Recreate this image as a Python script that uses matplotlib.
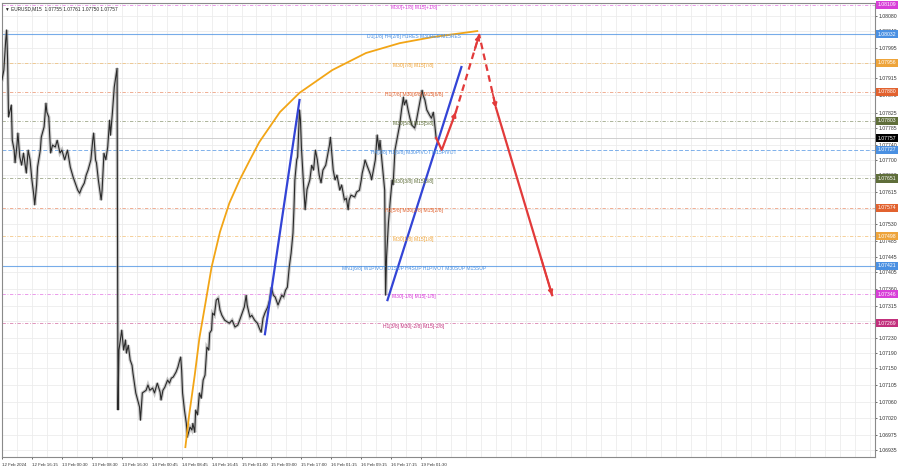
import numpy as np
import matplotlib
matplotlib.use("Agg")
import matplotlib.pyplot as plt
from matplotlib import transforms

plt.rcParams['font.family'] = ['Liberation Sans Narrow', 'Liberation Sans', 'DejaVu Sans']

# ---- data (EURUSD M15) ----
title = "\u25BC EURUSD,M15  1.07755 1.07761 1.07750 1.07757"

bars = [0, 2, 4, 5, 6, 7, 10, 11, 13, 14, 16, 17, 19, 21, 23, 26, 28, 30, 32, 34,
        35, 37, 38, 41, 42, 45, 47, 48, 50, 52, 54, 57, 59, 62, 64, 67, 70, 73, 76, 79,
        81, 83, 85, 88, 90, 92, 95, 97, 98, 100, 101, 103, 106, 107, 109, 111, 113, 115, 116, 118,
        120, 123, 124, 125, 126, 128, 130, 132, 133, 135, 137, 139, 140, 143, 145, 147, 148, 150, 154, 156,
        158, 161, 163, 166, 169, 170, 172, 174, 177, 179, 181, 183, 186, 188, 190, 191, 192, 193, 195, 197,
        198, 201, 203, 204, 206, 207, 209, 211, 213, 215, 217, 219, 221, 222, 224, 225, 227, 229, 231, 233,
        235, 238, 241, 243, 246, 249, 252, 254, 257, 259, 261, 262, 265, 267, 270, 273, 275, 277, 279, 281,
        284, 286, 288, 290, 292, 295, 297, 299, 301, 303, 305, 307, 309, 311, 312, 313, 315, 316, 318, 319,
        320, 322, 324, 325, 326, 329, 331, 333, 335, 337, 339, 341, 343, 346, 348, 350, 351, 353, 354, 356,
        358, 361, 363, 366, 368, 370, 371, 373, 377, 379, 382, 384, 385, 387, 388, 390, 392, 394, 395, 397,
        399, 401, 403, 404, 406, 409, 410, 411, 412, 413, 415, 417, 418, 420, 422, 425, 427, 429, 430, 432,
        434, 436, 438, 441, 443, 445, 447, 449, 450, 452, 454, 457, 459, 461, 462, 464]

close = [1.07911, 1.07937, 1.08016, 1.08043, 1.07964, 1.07813, 1.07845, 1.07752, 1.07726, 1.07692,
         1.07739, 1.07771, 1.07708, 1.07686, 1.07718, 1.07665, 1.07726, 1.07700, 1.07647, 1.07607,
         1.07581, 1.07634, 1.07681, 1.07726, 1.07760, 1.07787, 1.07850, 1.07826, 1.07813, 1.07718,
         1.07739, 1.07734, 1.07752, 1.07718, 1.07726, 1.07700, 1.07726, 1.07681, 1.07655, 1.07634,
         1.07620, 1.07612, 1.07625, 1.07639, 1.07660, 1.07673, 1.07700, 1.07752, 1.07771, 1.07700,
         1.07692, 1.07647, 1.07594, 1.07620, 1.07718, 1.07700, 1.07734, 1.07805, 1.07765, 1.07824,
         1.07892, 1.07942, 1.07040, 1.07198, 1.07216, 1.07251, 1.07198, 1.07225, 1.07190, 1.07211,
         1.07172, 1.07158, 1.07137, 1.07085, 1.07066, 1.07048, 1.07013, 1.07085, 1.07092, 1.07106,
         1.07092, 1.07098, 1.07085, 1.07111, 1.07087, 1.07066, 1.07092, 1.07100, 1.07119, 1.07111,
         1.07124, 1.07127, 1.07140, 1.07153, 1.07172, 1.07180, 1.07145, 1.07085, 1.07040, 1.07005,
         1.06968, 1.06995, 1.06987, 1.07005, 1.06981, 1.07040, 1.07027, 1.07085, 1.07071, 1.07119,
         1.07132, 1.07206, 1.07198, 1.07243, 1.07251, 1.07296, 1.07290, 1.07330, 1.07335, 1.07304,
         1.07290, 1.07277, 1.07272, 1.07269, 1.07277, 1.07259, 1.07264, 1.07277, 1.07298, 1.07312,
         1.07343, 1.07317, 1.07285, 1.07290, 1.07277, 1.07269, 1.07256, 1.07245, 1.07282, 1.07296,
         1.07312, 1.07330, 1.07364, 1.07343, 1.07338, 1.07317, 1.07330, 1.07343, 1.07338, 1.07356,
         1.07364, 1.07417, 1.07454, 1.07507, 1.07568, 1.07647, 1.07700, 1.07708, 1.07832, 1.07805,
         1.07734, 1.07647, 1.07568, 1.07594, 1.07622, 1.07647, 1.07686, 1.07673, 1.07726, 1.07700,
         1.07660, 1.07639, 1.07673, 1.07686, 1.07713, 1.07739, 1.07760, 1.07700, 1.07673, 1.07647,
         1.07660, 1.07620, 1.07634, 1.07594, 1.07599, 1.07568, 1.07594, 1.07607, 1.07602, 1.07615,
         1.07620, 1.07647, 1.07665, 1.07686, 1.07700, 1.07686, 1.07673, 1.07660, 1.07647, 1.07673,
         1.07700, 1.07766, 1.07726, 1.07752, 1.07700, 1.07620, 1.07343, 1.07444, 1.07487, 1.07533,
         1.07594, 1.07647, 1.07634, 1.07726, 1.07752, 1.07792, 1.07832, 1.07866, 1.07845, 1.07858,
         1.07832, 1.07810, 1.07792, 1.07784, 1.07805, 1.07832, 1.07858, 1.07884, 1.07871, 1.07858,
         1.07832, 1.07818, 1.07810, 1.07826, 1.07805, 1.07758]

last_price = 1.07757

# orange arc indicator
arc_bars = [196, 200, 206, 211, 218, 224, 233, 243, 254, 265, 275, 297, 318, 353, 389, 425, 460, 508]
arc_price = [1.06942, 1.07026, 1.07132, 1.07230, 1.07330, 1.07417, 1.07510, 1.07586, 1.07647,
             1.07700, 1.07747, 1.07826, 1.07877, 1.07937, 1.07982, 1.08008, 1.08024, 1.08040]

# blue trend lines
trend1_bars = [281, 318]
trend1_price = [1.07240, 1.07858]
trend2_bars = [412, 491]
trend2_price = [1.07330, 1.07945]

# red forecast path: solid, dashed, dashed, solid
fc_solid1_bars = [464, 470, 485]
fc_solid1_price = [1.07758, 1.07726, 1.07826]
fc_dash_bars = [485, 510, 528]
fc_dash_price = [1.07826, 1.08030, 1.07837]
fc_solid2_bars = [528, 588]
fc_solid2_price = [1.07837, 1.07343]

# Murrey / pivot levels
levels = [1.08109, 1.08032, 1.07956, 1.07880, 1.07803, 1.07727,
          1.07651, 1.07574, 1.07498, 1.07421, 1.07346, 1.07269]
level_text = ["M30[+1/8] M15[+1/8]",
              "D1[1/8] H4[2/8] H1RES M30RES M15RES",
              "M30[7/8] M15[7/8]",
              "H1[7/8] M30[6/8] M15[6/8]",
              "M30[5/8] M15[5/8]",
              "H4[3/8] H1[6/8] M30PIVOT M15PIVOT",
              "M30[3/8] M15[3/8]",
              "H1[5/8] M30[2/8] M15[2/8]",
              "M30[1/8] M15[1/8]",
              "MN1[6/8] W1PIVOT D1SUP H4SUP H1PIVOT M30SUP M15SUP",
              "M30[-1/8] M15[-1/8]",
              "H1[3/8] M30[-2/8] M15[-2/8]"]
level_color = ['#d83fd8', '#4a90e2', '#eea43a', '#e2622f', '#5f6e3a', '#4a90e2',
               '#5f6e3a', '#e2622f', '#eea43a', '#4a90e2', '#d83fd8', '#c2307c']
level_style = ['dashdot', 'solid', 'dashdot', 'dashdot', 'dashdot', 'dashed',
               'dashdot', 'dashdot', 'dashdot', 'solid', 'dashdot', 'dashdot']

y_ticks = [1.08080, 1.08040, 1.07995, 1.07955, 1.07915, 1.07870, 1.07825, 1.07785,
           1.07740, 1.07700, 1.07660, 1.07615, 1.07570, 1.07530, 1.07485, 1.07445,
           1.07405, 1.07360, 1.07315, 1.07275, 1.07230, 1.07190, 1.07150, 1.07105,
           1.07060, 1.07020, 1.06975, 1.06935]

x_labels = ["12 Feb 2024", "12 Feb 16:15", "13 Feb 00:30", "13 Feb 08:30", "13 Feb 16:30",
            "14 Feb 00:45", "14 Feb 08:45", "14 Feb 16:45", "15 Feb 01:00", "15 Feb 09:00",
            "15 Feb 17:00", "16 Feb 01:15", "16 Feb 09:15", "16 Feb 17:15", "19 Feb 01:30"]
bars_per_label = 32
bars_per_grid = 16
n_bars_view = 933

# ---- figure ----
fig = plt.figure(figsize=(9, 4.68), dpi=100)
ax = fig.add_axes([0.0022, 0.0235, 0.9700, 0.9701])
ax.set_xlim(0, n_bars_view)
ax.set_ylim(1.06916, 1.08114)

# grid
for gx in range(0, n_bars_view, bars_per_grid):
    ax.axvline(gx, color='#ececec', lw=0.6, zorder=0)
for gy in y_ticks:
    ax.axhline(gy, color='#ececec', lw=0.6, zorder=0)

# levels
for v, c, ls in zip(levels, level_color, level_style):
    if ls == 'solid':
        ax.axhline(v, color=c, lw=0.8, alpha=0.75, zorder=1)
    elif ls == 'dashed':
        ax.axhline(v, color=c, lw=0.7, alpha=0.7, linestyle=(0, (4, 2)), zorder=1)
    else:
        ax.axhline(v, color=c, lw=0.6, alpha=0.6, linestyle=(0, (4, 2, 1, 2)), zorder=1)
ax.axhline(last_price, color='#c8c8c8', lw=0.6, zorder=1)

# price
ax.plot(bars, close, color='#9a9a9a', lw=2.4, alpha=0.55, zorder=2, solid_joinstyle='miter')
ax.plot(bars, close, color='#2a2a2a', lw=0.8, zorder=3)

# indicators
ax.plot(arc_bars, arc_price, color='#f2a516', lw=1.3, zorder=4)
ax.plot(trend1_bars, trend1_price, color='#3344d6', lw=1.6, zorder=4)
ax.plot(trend2_bars, trend2_price, color='#3344d6', lw=1.6, zorder=4)

red = '#e23a3a'
ax.plot(fc_solid1_bars, fc_solid1_price, color=red, lw=1.6, zorder=5)
ax.plot(fc_dash_bars, fc_dash_price, color=red, lw=1.6, ls=(0, (3, 2)), zorder=5)
ax.plot(fc_solid2_bars, fc_solid2_price, color=red, lw=1.6, zorder=5)


def head(xs, ys):
    # arrow head on the last segment
    x0, y0 = xs[-2], ys[-2]
    x1, y1 = xs[-1], ys[-1]
    ax.annotate('', xy=(x1, y1), xytext=(x1 - (x1 - x0) * 0.2, y1 - (y1 - y0) * 0.2),
                arrowprops=dict(arrowstyle='-|>', color=red, lw=1.2,
                                mutation_scale=7, shrinkA=0, shrinkB=0), zorder=6)


head(fc_solid1_bars, fc_solid1_price)
head(fc_dash_bars[:2], fc_dash_price[:2])
head(fc_dash_bars[1:], fc_dash_price[1:])
head(fc_solid2_bars, fc_solid2_price)

# level labels
label_bar = 440
for v, t, c in zip(levels, level_text, level_color):
    ax.annotate(t, xy=(label_bar, v), xytext=(0, -2), textcoords='offset points',
                ha='center', va='center', fontsize=3.6, color=c, zorder=7)

# axes styling
ax.yaxis.tick_right()
ax.set_yticks(y_ticks)
ax.set_yticklabels([f"{v:.5f}" for v in y_ticks])
ax.set_xticks([i * bars_per_label for i in range(len(x_labels))])
ax.set_xticklabels(x_labels, ha='left')
ax.tick_params(axis='both', labelsize=3.7, colors='#333333', length=1.5, width=0.5, pad=1.0)
ax.tick_params(axis='x', labelsize=3.2, pad=2.5)
for s in ax.spines.values():
    s.set_color('#8a8a8a')
    s.set_linewidth(0.8)

# price boxes on the right axis
trans = transforms.blended_transform_factory(ax.transAxes, ax.transData)
for v, c in zip(levels, level_color):
    ax.text(1.003, v, f"{v:.5f}", transform=trans, ha='left', va='center', fontsize=3.7,
            color='white', zorder=10, clip_on=False,
            bbox=dict(boxstyle='square,pad=0.3', fc=c, ec='none'))
ax.text(1.003, last_price, f"{last_price:.5f}", transform=trans, ha='left', va='center',
        fontsize=3.7, color='white', zorder=10, clip_on=False,
        bbox=dict(boxstyle='square,pad=0.3', fc='black', ec='none'))

ax.text(0.003, 0.993, title, transform=ax.transAxes, ha='left', va='top',
        fontsize=3.4, color='#222222')

fig.savefig('out.png', dpi=100, facecolor='white')
